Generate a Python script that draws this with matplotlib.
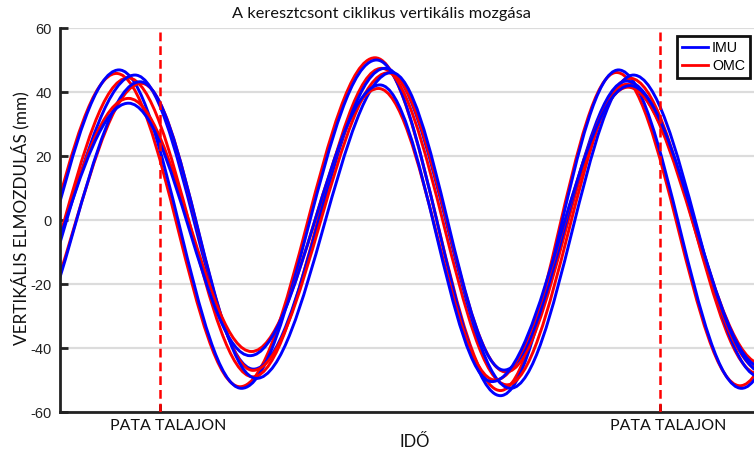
import matplotlib
matplotlib.use('Agg')
import matplotlib.pyplot as plt
from matplotlib.path import Path
from matplotlib.patches import PathPatch
from matplotlib.lines import Line2D

# extrema of each trial (x: % of stride, y: mm)
imu_x = [
    [-34.6, -8.2, 16.3, 43.3, 68.1, 91.7, 116.3, 141],
    [-33.2, -5.0, 18.7, 45.0, 70.1, 94.7, 120.0, 145],
    [-30.6, -4.0, 19.3, 46.3, 68.8, 93.3, 121.0, 146],
    [-33.7, -6.3, 18.0, 44.0, 66.4, 94.0, 120.4, 145],
]
imu_y = [
    [-52, 46.9, -52.6, 50.0, -54.9, 46.9, -52.6, 47],
    [-50, 45.3, -46.6, 47.4, -52.6, 45.3, -49.0, 45],
    [-50, 43.2, -49.5, 46.1, -46.9, 43.4, -48.0, 44],
    [-48, 36.5, -42.4, 42.2, -50.5, 42.0, -46.0, 42],
]
omc_x = [
    [-34.8, -8.7, 16.0, 43.0, 68.1, 91.3, 116.0, 141],
    [-32.8, -6.4, 18.6, 44.3, 69.4, 94.0, 119.6, 144],
    [-30.8, -3.7, 18.6, 45.6, 69.2, 93.3, 120.4, 145],
    [-33.7, -6.3, 18.3, 43.7, 67.0, 93.6, 120.4, 145],
]
omc_y = [
    [-51, 45.8, -52.1, 50.7, -53.3, 46.1, -51.8, 46],
    [-50, 44.4, -49.0, 47.4, -51.5, 44.3, -48.0, 44],
    [-48, 42.7, -47.0, 46.0, -47.5, 42.4, -47.0, 43],
    [-48, 38.0, -41.1, 41.1, -50.0, 41.5, -45.0, 42],
]
hoof_strikes = [0, 100]
yticks = [-60, -40, -20, 0, 20, 40, 60]


def wave(xs, ys):
    # smooth half-waves between consecutive extrema (flat tangents at peaks)
    verts = [(xs[0], ys[0])]
    codes = [Path.MOVETO]
    for i in range(len(xs) - 1):
        dx = xs[i + 1] - xs[i]
        verts += [(xs[i] + 0.363 * dx, ys[i]), (xs[i + 1] - 0.363 * dx, ys[i + 1]),
                  (xs[i + 1], ys[i + 1])]
        codes += [Path.CURVE4] * 3
    return Path(verts, codes)


fig = plt.figure(figsize=(7.54, 4.55), dpi=100)
ax = fig.add_axes([60 / 754, 1 - 412 / 455, 694 / 754, 384 / 455])

for yv in yticks:
    ax.axhline(yv, color='#dcdcdc', lw=1.6, zorder=0)

for k in range(len(imu_x)):
    ax.add_patch(PathPatch(wave(omc_x[k], omc_y[k]), fc='none', ec='#ff0000', lw=2.1, zorder=2))
    ax.add_patch(PathPatch(wave(imu_x[k], imu_y[k]), fc='none', ec='#0000ff', lw=2.1, zorder=2))

for xv in hoof_strikes:
    ax.axvline(xv, color='#ff0000', lw=1.8, ls=(0, (3.5, 2)), zorder=3)

ax.set_xlim(-20, 118.8)
ax.set_ylim(-60, 60)
ax.set_yticks(yticks)
ax.set_yticklabels([str(v) for v in yticks], fontsize=10.5, family='Liberation Sans', color='#222222')
ax.set_xticks(hoof_strikes)
ax.set_xticklabels([])
ax.tick_params(direction='in', length=6, width=2, color='#222222', pad=6)
for s in ['top', 'right']:
    ax.spines[s].set_visible(False)
for s in ['left', 'bottom']:
    ax.spines[s].set_linewidth(2)
    ax.spines[s].set_color('#222222')

for xv in hoof_strikes:
    ax.text(xv + 1.6, -62.2, 'PATA TALAJON', ha='center', va='top', fontsize=11.5,
            family='Lato', color='#111111', clip_on=False)

fig.text(381 / 754, 1 - 14 / 455, 'A keresztcsont ciklikus vertikális mozgása',
         ha='center', va='center', fontsize=11.8, family='Lato', color='#111111')
fig.text(415 / 754, 1 - 442 / 455, 'IDŐ', ha='center', va='center', fontsize=12,
         family='Lato', color='#111111')
fig.text(20 / 754, 1 - 218 / 455, 'VERTIKÁLIS ELMOZDULÁS (mm)', ha='center', va='center',
         rotation=90, fontsize=12.3, family='Lato', color='#111111')

handles = [Line2D([], [], color='#0000ff', lw=2), Line2D([], [], color='#ff0000', lw=2)]
leg = ax.legend(handles, ['IMU', 'OMC'], loc='upper right', bbox_to_anchor=(750 / 754, 1 - 36 / 455),
                bbox_transform=fig.transFigure, borderaxespad=0, fancybox=False, framealpha=1,
                handlelength=1.8, handletextpad=0.3, borderpad=0.35, labelspacing=0.25,
                prop={'family': 'Liberation Sans', 'size': 10.3})
leg.get_frame().set_edgecolor('#111111')
leg.get_frame().set_linewidth(2)

fig.savefig('out.png', dpi=100)
